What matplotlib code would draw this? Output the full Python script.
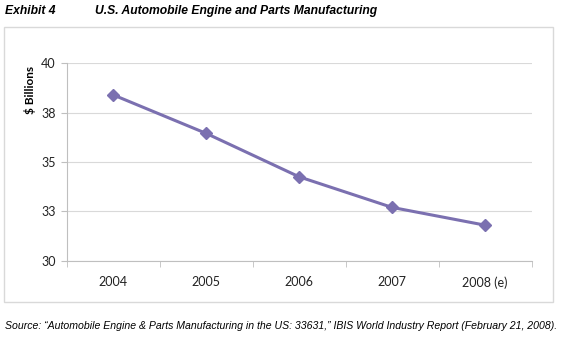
import matplotlib
matplotlib.use("Agg")
import matplotlib.pyplot as plt
from matplotlib.patches import Rectangle

# data
years = ["2004", "2005", "2006", "2007", "2008 (e)"]
revenue = [38.4, 36.45, 34.25, 32.7, 31.8]
ytick_vals = [30, 32.5, 35, 37.5, 40]
ytick_labels = ["30", "33", "35", "38", "40"]

fig = plt.figure(figsize=(5.67, 3.41), dpi=100)
ax = fig.add_axes([0.1176, 0.2355, 0.8198, 0.5789])

# outer chart border
fig.patches.append(Rectangle((0.007, 0.115), 0.968, 0.807, transform=fig.transFigure,
                             fill=False, edgecolor="#d9d9d9", linewidth=1.0))

x = list(range(len(years)))
ax.plot(x, revenue, color="#7b70b0", linewidth=2.2, marker="D", markersize=6,
        markerfacecolor="#7b70b0", markeredgecolor="#7b70b0", zorder=3)

ax.set_xlim(-0.5, len(years) - 0.5)
ax.set_ylim(30, 40)
ax.set_yticks(ytick_vals)
ax.set_yticklabels(ytick_labels)
ax.set_xticks(x)
ax.set_xticklabels(years)
ax.set_xticks([i - 0.5 for i in range(len(years) + 1)], minor=True)

ax.grid(axis="y", color="#d9d9d9", linewidth=0.8)
ax.set_axisbelow(True)
for s in ["top", "right"]:
    ax.spines[s].set_visible(False)
for s in ["left", "bottom"]:
    ax.spines[s].set_color("#bfbfbf")
    ax.spines[s].set_linewidth(0.8)

ax.tick_params(axis="y", length=4, color="#bfbfbf", labelsize=9, pad=4)
ax.tick_params(axis="x", which="major", length=0, labelsize=9, pad=11)
ax.tick_params(axis="x", which="minor", length=4, color="#bfbfbf")
for lbl in ax.get_xticklabels() + ax.get_yticklabels():
    lbl.set_fontfamily("Lato")
    lbl.set_color("#222222")

fig.text(0.053, 0.735, "$ Billions", rotation=90, ha="center", va="center",
         fontsize=8.5, fontweight="bold", fontfamily="Lato")

fig.text(0.009, 0.968, "Exhibit 4", ha="left", va="center", fontsize=8.7,
         fontweight="bold", fontstyle="italic", fontfamily="Liberation Sans")
fig.text(0.167, 0.968, "U.S. Automobile Engine and Parts Manufacturing", ha="left",
         va="center", fontsize=8.7, fontweight="bold", fontstyle="italic",
         fontfamily="Liberation Sans")

fig.text(0.009, 0.043, "Source: \u201cAutomobile Engine & Parts Manufacturing in the US: 33631,\u201d "
         "IBIS World Industry Report (February 21, 2008).", ha="left", va="center",
         fontsize=7.6, fontstyle="italic", fontfamily="Liberation Sans")

fig.savefig("out.png", dpi=100)
